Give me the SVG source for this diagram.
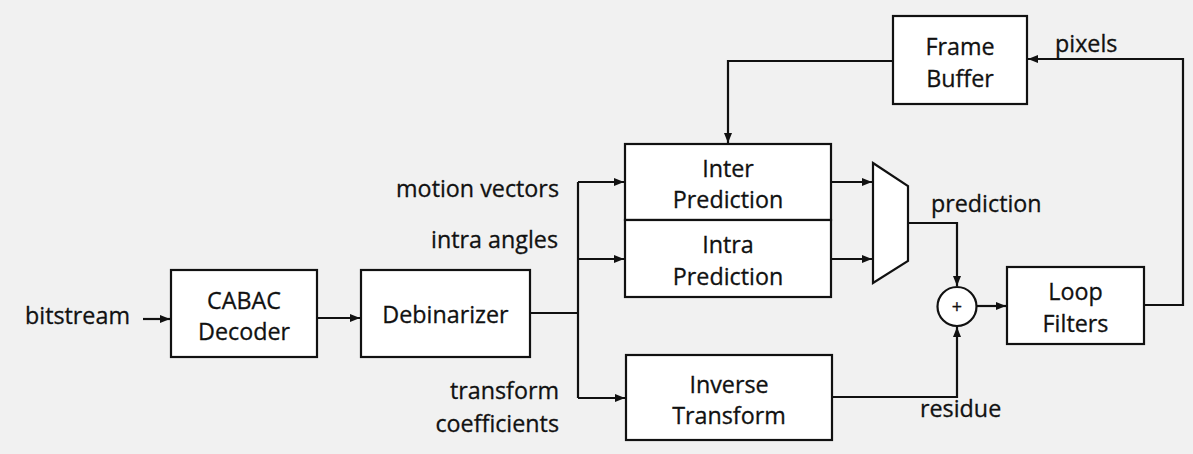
<svg xmlns="http://www.w3.org/2000/svg" width="1193" height="454" viewBox="0 0 1193 454">
  <defs>
    <marker id="arrow" viewBox="0 0 10 8" refX="10" refY="4" markerWidth="10" markerHeight="8" markerUnits="userSpaceOnUse" orient="auto">
      <path d="M0,0 L10,4 L0,8 Z" fill="#111"/>
    </marker>
  </defs>
  <style>
    .box { fill: #fff; stroke: #111; stroke-width: 2.2; }
    .wire { fill: none; stroke: #111; stroke-width: 2.2; }
    .arr { marker-end: url(#arrow); }
    text { font-family: "Open Sans", "Noto Sans", sans-serif; font-size: 23.3px; fill: #111; stroke: #111; stroke-width: 0.3; }
    .c { text-anchor: middle; }
    .r { text-anchor: end; }
  </style>
  <rect width="1193" height="454" fill="#f1f1f1"/>

  <g id="connectors">
    <line class="wire arr" x1="143" y1="319" x2="170" y2="319"/>
    <line class="wire arr" x1="317" y1="318" x2="360" y2="318"/>
    <polyline class="wire" points="530,313 578,313"/>
    <line class="wire" x1="578" y1="182" x2="578" y2="398"/>
    <line class="wire arr" x1="578" y1="182" x2="624" y2="182"/>
    <line class="wire arr" x1="578" y1="259" x2="624" y2="259"/>
    <line class="wire arr" x1="578" y1="398" x2="625" y2="398"/>
    <line class="wire arr" x1="831" y1="182" x2="872" y2="182"/>
    <line class="wire arr" x1="831" y1="259" x2="872" y2="259"/>
    <polyline class="wire arr" points="908,223 957,223 957,286"/>
    <polyline class="wire arr" points="832,397 957,397 957,327"/>
    <line class="wire arr" x1="977" y1="306" x2="1006" y2="306"/>
    <polyline class="wire arr" points="1144,305 1183,305 1183,59 1028,59"/>
    <polyline class="wire arr" points="893,61 728,61 728,143"/>
  </g>

  <g id="label-bitstream"><text x="25" y="324">bitstream</text></g>

  <g id="cabac">
    <rect class="box" x="171" y="270" width="146" height="87"/>
    <text class="c" x="244" y="309">CABAC</text>
    <text class="c" x="244" y="340">Decoder</text>
  </g>

  <g id="debinarizer">
    <rect class="box" x="361" y="270" width="169" height="87"/>
    <text class="c" x="445.5" y="323">Debinarizer</text>
  </g>

  <g id="label-motion"><text class="r" x="559" y="197">motion vectors</text></g>
  <g id="label-intra"><text class="r" x="558" y="248">intra angles</text></g>
  <g id="label-transform">
    <text class="r" x="559" y="399">transform</text>
    <text class="r" x="559" y="432">coefficients</text>
  </g>

  <g id="inter-prediction">
    <rect class="box" x="625" y="144" width="206" height="76"/>
    <text class="c" x="728" y="177">Inter</text>
    <text class="c" x="728" y="208">Prediction</text>
  </g>

  <g id="intra-prediction">
    <rect class="box" x="625" y="220" width="206" height="77"/>
    <text class="c" x="728" y="253">Intra</text>
    <text class="c" x="728" y="285">Prediction</text>
  </g>

  <g id="inverse-transform">
    <rect class="box" x="626" y="355" width="206" height="85"/>
    <text class="c" x="729" y="393">Inverse</text>
    <text class="c" x="729" y="424">Transform</text>
  </g>

  <g id="mux">
    <polygon class="box" points="873,163 908,186 908,261 873,283"/>
  </g>
  <g id="label-prediction"><text x="931" y="212">prediction</text></g>

  <g id="adder">
    <circle class="box" cx="957" cy="306.5" r="19.5"/>
    <text class="c" x="957" y="313" style="font-size:18px">+</text>
  </g>
  <g id="label-residue"><text x="920" y="417">residue</text></g>

  <g id="loop-filters">
    <rect class="box" x="1007" y="267" width="137" height="77"/>
    <text class="c" x="1075.5" y="300">Loop</text>
    <text class="c" x="1075.5" y="332">Filters</text>
  </g>

  <g id="frame-buffer">
    <rect class="box" x="893" y="16" width="134" height="88"/>
    <text class="c" x="960" y="55">Frame</text>
    <text class="c" x="960" y="87">Buffer</text>
  </g>
  <g id="label-pixels"><text x="1055" y="52">pixels</text></g>
</svg>
